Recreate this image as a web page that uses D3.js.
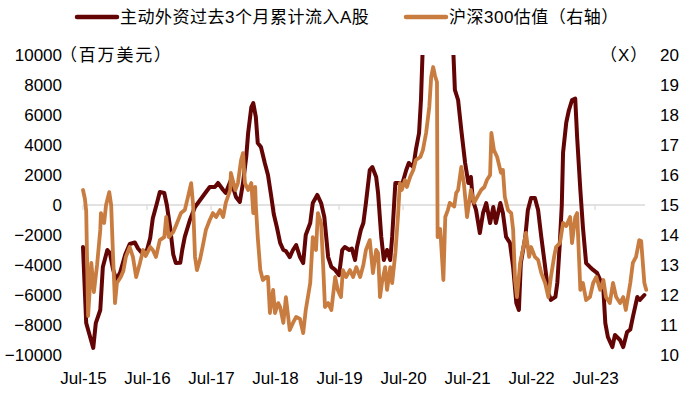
<!DOCTYPE html>
<html>
<head>
<meta charset="utf-8">
<script src="https://cdn.jsdelivr.net/npm/d3@7"></script>
<style>
  html, body { margin: 0; padding: 0; background: #fff; }
  svg { display: block; }
  text { font-family: "Liberation Sans", Arial, "Noto Sans CJK SC", sans-serif; fill: #000; }
</style>
</head>
<body>
<svg id="chart" width="699" height="398"></svg>
<script>
// ---------------- DATA ----------------
const seriesNames = ["主动外资过去3个月累计流入A股", "沪深300估值（右轴）"];
const leftUnit = "（百万美元）";
const rightUnit = "（X）";

// [decimal year, USD mn] — active foreign flows, trailing 3 months
const flowSeries = [
  [2015.50,-2800],[2015.55,-7870],[2015.66,-9530],[2015.70,-7870],[2015.77,-7000],[2015.81,-4130],
  [2015.88,-3000],[2015.92,-3200],[2015.97,-4300],[2016.02,-5000],[2016.08,-4500],[2016.16,-3300],
  [2016.23,-2600],[2016.31,-2500],[2016.36,-2900],[2016.42,-3200],[2016.50,-3000],[2016.55,-2200],
  [2016.59,-900],[2016.66,200],[2016.70,870],[2016.77,800],[2016.81,0],[2016.86,-1470],
  [2016.91,-3300],[2016.95,-3870],[2017.02,-3850],[2017.05,-3000],[2017.09,-2130],[2017.17,-1000],
  [2017.25,-130],[2017.33,330],[2017.41,800],[2017.48,1200],[2017.56,1200],[2017.61,1470],
  [2017.69,1000],[2017.73,800],[2017.81,1670],[2017.89,530],[2017.95,200],[2018.00,1470],
  [2018.05,3200],[2018.08,4800],[2018.13,6530],[2018.16,6800],[2018.20,5870],[2018.23,4130],
  [2018.28,3870],[2018.34,2800],[2018.39,2000],[2018.44,600],[2018.48,-600],[2018.53,-1500],
  [2018.58,-2530],[2018.63,-3000],[2018.67,-3070],[2018.73,-3470],[2018.78,-3000],[2018.83,-2670],
  [2018.89,-3470],[2018.94,-3870],[2018.98,-2000],[2019.05,-1200],[2019.09,130],[2019.16,670],
  [2019.22,130],[2019.27,-800],[2019.33,-3470],[2019.38,-4130],[2019.44,-4330],[2019.50,-4670],
  [2019.55,-3000],[2019.59,-2800],[2019.66,-3000],[2019.70,-2900],[2019.75,-3670],[2019.78,-2800],
  [2019.84,-1670],[2019.88,-1200],[2019.92,130],[2019.98,2330],[2020.02,2530],[2020.08,1870],
  [2020.11,800],[2020.16,-2130],[2020.20,-3670],[2020.25,-3000],[2020.30,-3670],[2020.33,-2130],
  [2020.38,1470],[2020.44,1470],[2020.48,1300],[2020.55,2330],[2020.59,2800],[2020.66,2530],
  [2020.70,3670],[2020.75,4800],[2020.78,7000],[2020.81,10800],[2020.86,13000],[2021.05,15000],
  [2021.25,13000],[2021.28,10800],[2021.31,7670],[2021.36,7000],[2021.41,5000],[2021.47,2800],
  [2021.52,1470],[2021.56,1870],[2021.59,330],[2021.64,-330],[2021.70,-1870],[2021.75,-530],
  [2021.80,130],[2021.86,-1200],[2021.91,-130],[2021.95,-1200],[2022.02,130],[2022.06,-530],
  [2022.11,-2130],[2022.17,-2530],[2022.22,-4130],[2022.27,-6530],[2022.31,-7000],[2022.34,-3870],
  [2022.41,-2130],[2022.45,-330],[2022.50,470],[2022.56,470],[2022.61,-330],[2022.66,-2130],
  [2022.72,-4130],[2022.77,-5870],[2022.81,-6330],[2022.88,-6130],[2022.91,-5200],[2022.95,-2500],
  [2022.98,0],[2023.00,3500],[2023.05,5500],[2023.09,6300],[2023.14,7000],[2023.19,7100],
  [2023.22,4500],[2023.27,1000],[2023.31,-1470],[2023.36,-3870],[2023.42,-4130],[2023.47,-4330],
  [2023.53,-4530],[2023.58,-5000],[2023.63,-5670],[2023.66,-7870],[2023.70,-8800],[2023.77,-9470],
  [2023.81,-8670],[2023.89,-9000],[2023.94,-9470],[2024.00,-8470],[2024.05,-8300],[2024.09,-7470],
  [2024.16,-6130],[2024.20,-6330],[2024.27,-6000]
];

// [decimal year, P/E x] — CSI 300 valuation (right axis)
const peSeries = [
  [2015.50,15.5],[2015.53,15.2],[2015.55,14.8],[2015.58,11.3],[2015.63,13.07],[2015.67,12.1],
  [2015.72,13.0],[2015.77,14.17],[2015.78,14.73],[2015.83,14.4],[2015.86,15.0],[2015.91,15.43],
  [2015.94,15.0],[2015.97,13.27],[2016.00,11.73],[2016.03,12.4],[2016.09,12.6],[2016.13,12.8],
  [2016.17,13.27],[2016.23,13.6],[2016.28,13.27],[2016.33,12.6],[2016.39,13.07],[2016.44,13.5],
  [2016.48,13.3],[2016.55,13.6],[2016.59,13.5],[2016.64,13.27],[2016.70,13.83],[2016.77,13.93],
  [2016.80,14.6],[2016.84,13.93],[2016.91,14.1],[2016.95,14.3],[2017.03,14.73],[2017.09,14.83],
  [2017.14,15.27],[2017.19,15.73],[2017.22,15.0],[2017.25,13.27],[2017.28,12.83],[2017.33,13.2],
  [2017.38,13.73],[2017.42,14.17],[2017.48,14.5],[2017.53,14.73],[2017.58,14.6],[2017.64,14.83],
  [2017.69,14.6],[2017.73,15.07],[2017.80,15.5],[2017.81,16.07],[2017.88,15.5],[2017.92,15.73],
  [2017.97,16.5],[2018.00,16.73],[2018.03,15.73],[2018.08,15.5],[2018.13,15.73],[2018.16,14.73],
  [2018.19,15.6],[2018.20,15.0],[2018.23,13.93],[2018.27,12.83],[2018.31,12.5],[2018.36,12.6],
  [2018.39,12.6],[2018.42,11.4],[2018.47,12.17],[2018.50,11.4],[2018.55,11.73],[2018.58,11.6],
  [2018.63,11.07],[2018.67,11.93],[2018.73,10.83],[2018.78,11.07],[2018.83,11.27],[2018.89,11.2],
  [2018.94,10.73],[2018.98,11.5],[2019.05,12.4],[2019.09,13.93],[2019.14,13.5],[2019.17,14.73],
  [2019.22,14.4],[2019.25,13.07],[2019.28,11.6],[2019.33,11.73],[2019.38,11.5],[2019.44,12.6],
  [2019.48,12.17],[2019.53,11.93],[2019.56,12.83],[2019.61,12.6],[2019.67,12.83],[2019.72,12.6],
  [2019.77,12.93],[2019.83,12.6],[2019.88,13.0],[2019.92,13.5],[2019.98,13.83],[2020.03,12.73],
  [2020.08,13.5],[2020.11,13.4],[2020.14,11.93],[2020.17,12.4],[2020.22,12.93],[2020.25,12.17],
  [2020.30,12.93],[2020.33,12.4],[2020.38,13.4],[2020.42,14.6],[2020.45,15.73],[2020.48,15.5],
  [2020.53,15.83],[2020.56,15.6],[2020.61,15.93],[2020.66,16.17],[2020.70,16.5],[2020.77,16.6],
  [2020.81,16.83],[2020.86,17.4],[2020.91,18.27],[2020.94,19.27],[2020.97,19.6],[2021.00,19.3],
  [2021.03,19.1],[2021.04,13.93],[2021.08,14.2],[2021.09,13.9],[2021.13,12.5],[2021.16,14.6],
  [2021.20,14.83],[2021.23,15.07],[2021.30,14.95],[2021.33,15.4],[2021.36,15.5],[2021.41,16.27],
  [2021.45,15.73],[2021.50,14.6],[2021.56,15.5],[2021.61,15.07],[2021.66,15.27],[2021.72,15.5],
  [2021.77,15.6],[2021.81,15.83],[2021.86,16.0],[2021.88,17.4],[2021.92,16.83],[2021.97,16.6],
  [2022.03,16.07],[2022.06,16.17],[2022.09,15.27],[2022.14,14.83],[2022.19,14.73],[2022.22,14.17],
  [2022.25,12.5],[2022.28,11.93],[2022.33,13.07],[2022.38,13.6],[2022.42,14.07],[2022.47,13.27],
  [2022.50,13.6],[2022.56,13.27],[2022.61,13.17],[2022.66,12.73],[2022.72,12.4],[2022.77,11.93],
  [2022.81,12.6],[2022.86,13.27],[2022.89,13.6],[2022.95,13.73],[2023.00,14.4],[2023.05,14.3],
  [2023.11,14.6],[2023.14,13.73],[2023.19,14.6],[2023.22,14.73],[2023.27,12.17],[2023.31,12.4],
  [2023.36,11.83],[2023.42,11.93],[2023.47,12.4],[2023.52,12.6],[2023.58,12.17],[2023.63,12.5],
  [2023.67,11.93],[2023.73,11.73],[2023.78,12.4],[2023.83,11.93],[2023.89,11.73],[2023.94,11.93],
  [2023.98,11.5],[2024.05,12.4],[2024.09,13.07],[2024.14,13.27],[2024.19,13.83],[2024.22,13.8],
  [2024.27,12.4],[2024.30,12.17]
];

const xTickYears = [2015.5, 2016.5, 2017.5, 2018.5, 2019.5, 2020.5, 2021.5, 2022.5, 2023.5];
const xTickLabels = ["Jul-15","Jul-16","Jul-17","Jul-18","Jul-19","Jul-20","Jul-21","Jul-22","Jul-23"];
const leftTicks = [-10000,-8000,-6000,-4000,-2000,0,2000,4000,6000,8000,10000];
const rightTicks = [10,11,12,13,14,15,16,17,18,19,20];

// ---------------- LAYOUT ----------------
const colors = ["#630505", "#C97C3F"];
const plot = { left: 83, right: 645, top: 55, bottom: 355 };
const svg = d3.select("#chart");

const x = d3.scaleLinear().domain([2015.5, 2024.28]).range([plot.left, plot.right]);
const yL = d3.scaleLinear().domain([-10000, 10000]).range([plot.bottom, plot.top]);
const yR = d3.scaleLinear().domain([10, 20]).range([plot.bottom, plot.top]);

svg.append("defs").append("clipPath").attr("id", "clip")
  .append("rect").attr("x", 0).attr("y", plot.top).attr("width", 699).attr("height", plot.bottom - plot.top);

// zero line with small ticks
svg.append("line")
  .attr("x1", plot.left).attr("x2", plot.right)
  .attr("y1", yL(0)).attr("y2", yL(0))
  .attr("stroke", "#d9d9d9").attr("stroke-width", 1.5);
svg.append("g").selectAll("line").data(xTickYears).join("line")
  .attr("x1", d => x(d)).attr("x2", d => x(d))
  .attr("y1", yL(0)).attr("y2", yL(0) + 5)
  .attr("stroke", "#d9d9d9").attr("stroke-width", 1.2);

// axes
const fontSize = 17;
const axL = svg.append("g").attr("transform", `translate(66,0)`)
  .call(d3.axisLeft(yL).tickValues(leftTicks).tickSize(0).tickPadding(4).tickFormat(d3.format("d")));
const axR = svg.append("g").attr("transform", `translate(657,0)`)
  .call(d3.axisRight(yR).tickValues(rightTicks).tickSize(0).tickPadding(3).tickFormat(d3.format("d")));
const axX = svg.append("g").attr("transform", `translate(0,369)`)
  .call(d3.axisBottom(x).tickValues(xTickYears).tickSize(0).tickPadding(3)
    .tickFormat((d, i) => xTickLabels[i]));
[axL, axR, axX].forEach(a => {
  a.select(".domain").remove();
  a.selectAll("text").attr("font-size", fontSize)
    .attr("font-family", '"Liberation Sans", Arial, sans-serif').attr("fill", "#000");
});

// unit labels
svg.append("text").attr("x", 60).attr("y", yL(10000)).attr("dy", "0.35em")
  .attr("font-size", fontSize).attr("letter-spacing", 1.8)
  .attr("font-family", '"Noto Sans CJK SC", sans-serif').text(leftUnit);
svg.append("text").attr("x", 600).attr("y", yR(20)).attr("dy", "0.35em")
  .attr("font-size", fontSize).attr("letter-spacing", 1)
  .attr("font-family", '"Noto Sans CJK SC", sans-serif').text(rightUnit);

// lines
const lineL = d3.line().x(d => x(d[0])).y(d => yL(d[1]));
const lineR = d3.line().x(d => x(d[0])).y(d => yR(d[1]));
const g = svg.append("g").attr("clip-path", "url(#clip)");
g.append("path").datum(flowSeries).attr("d", lineL)
  .attr("fill", "none").attr("stroke", colors[0]).attr("stroke-width", 4)
  .attr("stroke-linejoin", "round").attr("stroke-linecap", "round");
g.append("path").datum(peSeries).attr("d", lineR)
  .attr("fill", "none").attr("stroke", colors[1]).attr("stroke-width", 3.8)
  .attr("stroke-linejoin", "round").attr("stroke-linecap", "round");

// legend
const legendItems = [
  { name: seriesNames[0], color: colors[0], x: 77 },
  { name: seriesNames[1], color: colors[1], x: 406 }
];
const lg = svg.append("g").selectAll("g").data(legendItems).join("g")
  .attr("transform", d => `translate(${d.x},17)`);
lg.append("line").attr("x1", 0).attr("x2", 40).attr("y1", 0).attr("y2", 0)
  .attr("stroke", d => d.color).attr("stroke-width", 4.5).attr("stroke-linecap", "round");
lg.append("text").attr("x", 43).attr("y", 0).attr("dy", "0.35em")
  .attr("font-size", fontSize).attr("letter-spacing", 0.5)
  .attr("font-family", '"Liberation Sans", "Noto Sans CJK SC", sans-serif')
  .text(d => d.name);
</script>
</body>
</html>
